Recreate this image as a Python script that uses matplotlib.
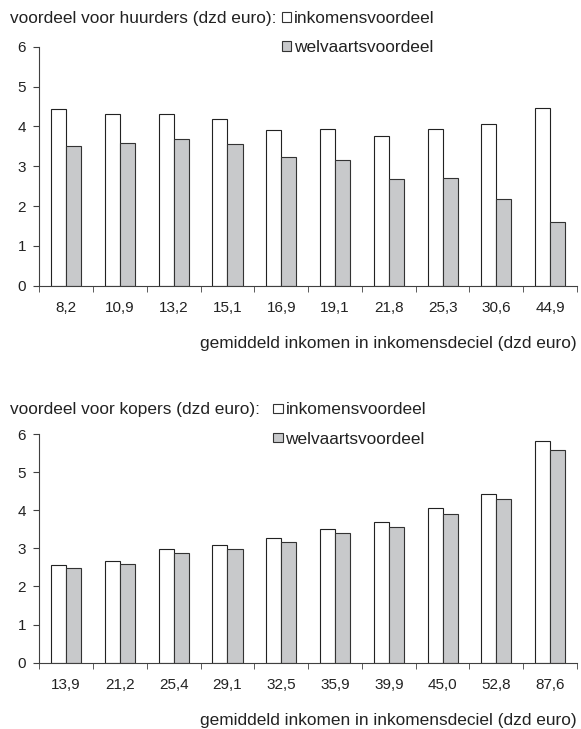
import numpy as np
import matplotlib
matplotlib.use('Agg')
import matplotlib.pyplot as plt
from matplotlib.patches import Rectangle

plt.rcParams['font.family'] = ['Liberation Sans', 'DejaVu Sans']

# huurders
huur_labels = ['8,2', '10,9', '13,2', '15,1', '16,9', '19,1', '21,8', '25,3', '30,6', '44,9']
huur_inkomen = [4.44, 4.30, 4.31, 4.19, 3.92, 3.93, 3.75, 3.93, 4.05, 4.47]
huur_welvaart = [3.51, 3.58, 3.68, 3.56, 3.22, 3.16, 2.69, 2.70, 2.18, 1.59]

# kopers
koop_labels = ['13,9', '21,2', '25,4', '29,1', '32,5', '35,9', '39,9', '45,0', '52,8', '87,6']
koop_inkomen = [2.57, 2.67, 2.97, 3.09, 3.27, 3.52, 3.68, 4.05, 4.43, 5.81]
koop_welvaart = [2.49, 2.60, 2.88, 2.99, 3.17, 3.40, 3.57, 3.90, 4.29, 5.58]

W, H = 581, 729
GREY = '#c8c9cb'
TXT = '#222222'
AXC = '#404040'
FS = 12.4
TFS = 11


def draw_panel(ax, labels, inkomen, welvaart):
    x = np.arange(len(labels))
    w = 0.28
    ax.bar(x - w / 2, inkomen, w, color='white', edgecolor='#222222', linewidth=0.8)
    ax.bar(x + w / 2, welvaart, w, color=GREY, edgecolor='#333333', linewidth=0.8)
    ax.set_xlim(-0.5, len(labels) - 0.5)
    ax.set_ylim(0, 6)
    ax.set_yticks(range(7))
    ax.set_xticks(x)
    ax.set_xticklabels(labels)
    ax.set_xticks(np.arange(-0.5, len(labels)), minor=True)
    ax.tick_params(axis='x', which='major', length=0, pad=11, colors=TXT, labelsize=TFS)
    ax.tick_params(axis='x', which='minor', length=4, color=AXC)
    ax.tick_params(axis='y', length=4.5, pad=5, color=AXC, labelcolor=TXT, labelsize=TFS)
    for s in ['top', 'right']:
        ax.spines[s].set_visible(False)
    for s in ['left', 'bottom']:
        ax.spines[s].set_color(AXC)
        ax.spines[s].set_linewidth(0.8)


def px(x, y):
    # pixel position (from top-left) to figure fraction
    return x / W, 1 - y / H


fig = plt.figure(figsize=(W / 100, H / 100), dpi=100)

ax1 = fig.add_axes([39.3 / W, 1 - 285.7 / H, (577 - 39.3) / W, (285.7 - 46.7) / H])
draw_panel(ax1, huur_labels, huur_inkomen, huur_welvaart)
ax2 = fig.add_axes([39.3 / W, 1 - 662.7 / H, (577 - 39.3) / W, (662.7 - 434) / H])
draw_panel(ax2, koop_labels, koop_inkomen, koop_welvaart)

names = ['inkomensvoordeel', 'welvaartsvoordeel']
fills = ['white', GREY]

# title baseline, legend square left, xlabel baseline
for title, base, sq_x, xl_base in [('voordeel voor huurders (dzd euro):', 23.3, 281.7, 348.3),
                                   ('voordeel voor kopers (dzd euro):', 414.5, 273.0, 725.3)]:
    fig.text(*px(10, base), title, ha='left', va='baseline', color=TXT, fontsize=FS)
    for i, (name, fc) in enumerate(zip(names, fills)):
        b = base + i * 29
        x0, y0 = px(sq_x, b - 1.5)
        fig.add_artist(Rectangle((x0, y0), 9.5 / W, 9.5 / H, transform=fig.transFigure,
                                 facecolor=fc, edgecolor='#333333', linewidth=0.8))
        fig.text(*px(sq_x + 12.5, b), name, ha='left', va='baseline', color=TXT, fontsize=FS)
    fig.text(*px(577, xl_base), 'gemiddeld inkomen in inkomensdeciel (dzd euro)',
             ha='right', va='baseline', color=TXT, fontsize=FS)

fig.savefig('out.png', dpi=100)
